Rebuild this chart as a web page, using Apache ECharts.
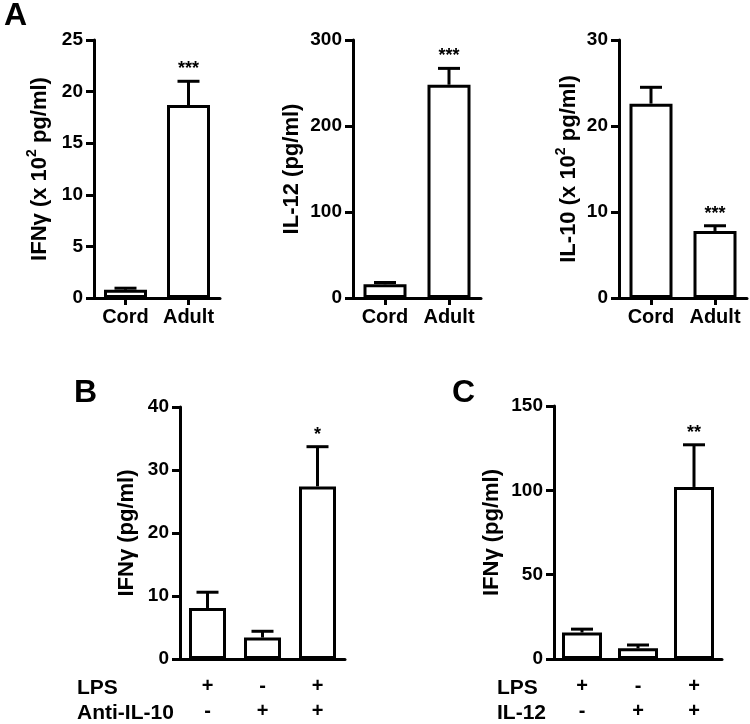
<!DOCTYPE html>
<html><head><meta charset="utf-8">
<script src="https://cdn.jsdelivr.net/npm/echarts@6/dist/echarts.min.js"></script>
<style>html,body{margin:0;padding:0;background:#fff}#c{width:750px;height:724px}</style>
</head><body><div id="c"></div>
<script>
// ---- data ----
const catsA = ['Cord', 'Adult'];
const ifngA = [0.8, 18.7];
const ifngASem = [0.15, 2.3];
const ifngASig = ['', '***'];
const il12A = [16, 248];
const il12ASem = [2, 19];
const il12ASig = ['', '***'];
const il10A = [22.6, 7.8];
const il10ASem = [1.9, 0.6];
const il10ASig = ['', '***'];

const catsB = ['g1', 'g2', 'g3'];
const ifngB = [8.1, 3.4, 27.4];
const ifngBSem = [2.5, 1.0, 6.3];
const ifngBSig = ['', '', '*'];
const rowNamesB = ['LPS', 'Anti-IL-10'];
const lpsB = ['+', '-', '+'];
const antiB = ['-', '+', '+'];

const catsC = ['g1', 'g2', 'g3'];
const ifngC = [15.7, 6.3, 102];
const ifngCSem = [2.0, 2.0, 25];
const ifngCSig = ['', '', '**'];
const rowNamesC = ['LPS', 'IL-12'];
const lpsC = ['+', '-', '+'];
const il12C = ['-', '+', '+'];

const yTicks = [[0, 25, 5], [0, 300, 100], [0, 30, 10], [0, 40, 10], [0, 150, 50]];

// ---- styles ----
const FF = '"Liberation Sans", Arial, sans-serif';
const black = '#000';

function grid(l, t, w, h) { return { left: l, top: t, width: w, height: h, containLabel: false }; }

function xAx(gi, cats, opts) {
  return Object.assign({
    type: 'category', gridIndex: gi, data: cats,
    axisLine: { lineStyle: { color: black, width: 3 } },
    axisTick: { show: true, alignWithLabel: true, length: 7, lineStyle: { color: black, width: 3 } },
    axisLabel: { color: black, fontFamily: FF, fontWeight: 'bold', fontSize: 20, margin: 9, interval: 0, hideOverlap: false },
    splitLine: { show: false }
  }, opts || {});
}
function yAx(gi, t, name, nameGap, rich) {
  const o = {
    type: 'value', gridIndex: gi, min: t[0], max: t[1], interval: t[2],
    name: name, nameLocation: 'middle', nameGap: nameGap,
    nameTextStyle: { color: black, fontFamily: FF, fontWeight: 'bold', fontSize: 22 },
    axisLine: { show: true, lineStyle: { color: black, width: 3 } },
    axisTick: { show: true, length: 8, lineStyle: { color: black, width: 3 } },
    axisLabel: { color: black, fontFamily: FF, fontWeight: 'bold', fontSize: 19, margin: 11 },
    splitLine: { show: false }
  };
  if (rich) o.nameTextStyle.rich = rich;
  return o;
}
const supRich = {
  a: { fontFamily: FF, fontWeight: 'bold', fontSize: 22, color: black, lineHeight: 26, verticalAlign: 'bottom' },
  s: { fontFamily: FF, fontWeight: 'bold', fontSize: 14, color: black, lineHeight: 26, verticalAlign: 'top' }
};

function bars(gi, vals, w) {
  return {
    type: 'bar', xAxisIndex: gi, yAxisIndex: gi, data: vals, barWidth: w,
    itemStyle: { color: '#fff', borderColor: black, borderWidth: 3 }, z: 3
  };
}
function errs(gi, means, sems, sig) {
  return {
    type: 'custom', xAxisIndex: gi, yAxisIndex: gi, z: 5,
    data: means.map((m, i) => [i, m, m + sems[i]]),
    encode: { x: 0, y: [1, 2] },
    renderItem: function (params, api) {
      const i = api.value(0);
      const lo = api.coord([i, api.value(1)]);
      const hi = api.coord([i, api.value(2)]);
      const cap = 11;
      const ch = [
        { type: 'line', shape: { x1: lo[0], y1: lo[1], x2: hi[0], y2: hi[1] }, style: { stroke: black, lineWidth: 3 } },
        { type: 'line', shape: { x1: hi[0] - cap, y1: hi[1], x2: hi[0] + cap, y2: hi[1] }, style: { stroke: black, lineWidth: 3 } }
      ];
      const s = sig[params.dataIndex];
      if (s) ch.push({ type: 'text', style: { text: s, x: hi[0], y: hi[1] - 12, align: 'center', verticalAlign: 'middle', font: 'bold 18px ' + FF, fill: black } });
      return { type: 'group', children: ch };
    }
  };
}

const rowLabelB = (v, idx) => lpsB[idx] + '\n' + antiB[idx];
const rowLabelC = (v, idx) => lpsC[idx] + '\n' + il12C[idx];
const rowAxisOpts = (fmt) => ({
  axisTick: { show: true, alignWithLabel: true, length: 2, lineStyle: { color: black, width: 2 } },
  axisLabel: { color: black, fontFamily: FF, fontWeight: 'bold', fontSize: 20, margin: 15, lineHeight: 25, interval: 0, formatter: fmt }
});

function txt(t, l, y, size) {
  return { type: 'text', left: l, top: y, style: { text: t, font: 'bold ' + size + 'px ' + FF, fill: black } };
}

const option = {
  animation: false,
  backgroundColor: '#fff',
  grid: [grid(94, 40, 126, 258), grid(353, 40, 128, 258), grid(619, 40, 128, 258), grid(180, 407, 165, 254), grid(554, 406, 168, 254)],
  xAxis: [xAx(0, catsA), xAx(1, catsA), xAx(2, catsA), xAx(3, catsB, rowAxisOpts(rowLabelB)), xAx(4, catsC, rowAxisOpts(rowLabelC))],
  yAxis: [
    yAx(0, yTicks[0], '{a|IFNγ (x 10}{s|2}{a| pg/ml)}', 43, supRich),
    yAx(1, yTicks[1], 'IL-12 (pg/ml)', 50),
    yAx(2, yTicks[2], '{a|IL-10 (x 10}{s|2}{a| pg/ml)}', 39, supRich),
    yAx(3, yTicks[3], 'IFNγ (pg/ml)', 42),
    yAx(4, yTicks[4], 'IFNγ (pg/ml)', 51)
  ],
  series: [
    bars(0, ifngA, 43), errs(0, ifngA, ifngASem, ifngASig),
    bars(1, il12A, 43), errs(1, il12A, il12ASem, il12ASig),
    bars(2, il10A, 43), errs(2, il10A, il10ASem, il10ASig),
    bars(3, ifngB, 37), errs(3, ifngB, ifngBSem, ifngBSig),
    bars(4, ifngC, 40), errs(4, ifngC, ifngCSem, ifngCSig)
  ],
  graphic: [
    txt('A', 4, 0, 32), txt('B', 74, 377, 32), txt('C', 452, 377, 32),
    txt(rowNamesB[0], 77, 678, 21), txt(rowNamesB[1], 77, 703, 21),
    txt(rowNamesC[0], 497, 678, 21), txt(rowNamesC[1], 497, 703, 21)
  ]
};
const chart = echarts.init(document.getElementById('c'), null, { renderer: 'canvas' });
chart.setOption(option);
</script></body></html>
